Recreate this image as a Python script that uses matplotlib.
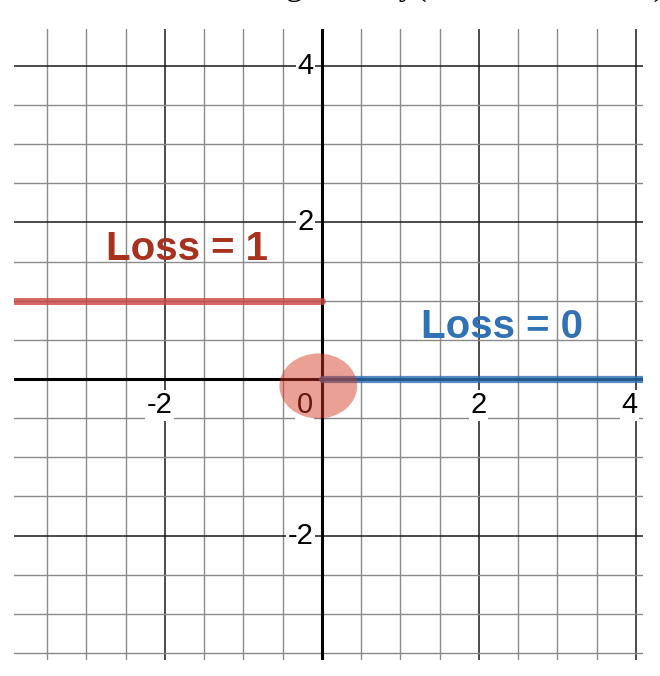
import numpy as np
import matplotlib
matplotlib.use("Agg")
import matplotlib.pyplot as plt
from matplotlib.patches import Ellipse

# --- data ---
x_range = [-3.92, 4.09]
y_range = [-3.59, 4.47]
minor_step = 0.5
major_step = 2.0

loss_one_x = [-3.92, 0.0]      # Loss = 1 for x < 0
loss_one_y = [1.0, 1.0]
loss_zero_x = [0.0, 4.09]      # Loss = 0 for x >= 0
loss_zero_y = [0.0, 0.0]

hole_xy = [-0.045, -0.09]      # highlighted point at the origin
hole_size = [0.99, 0.83]

xtick_vals = [-2, 0, 2, 4]
xtick_text = ["-2", "0", "2", "4"]
xtick_shift = [-5, -9, 0, -6]  # px, label placement tweaks
ytick_vals = [-2, 2, 4]
ytick_text = ["-2", "2", "4"]

label_one = ("Loss = 1", -1.72, 1.66)
label_zero = ("Loss = 0", 2.29, 0.66)

RED = "#c74440"; BLUE = "#2d70b3"
RED_TXT = "#a9321f"; BLUE_TXT = "#3172b7"

fig = plt.figure(figsize=(6.6, 6.76), dpi=100)
ax = fig.add_axes([14 / 660, 16 / 676, 629 / 660, 631 / 676])
ax.set_xlim(*x_range)
ax.set_ylim(*y_range)
for s in ax.spines.values():
    s.set_visible(False)
ax.set_xticks([]); ax.set_yticks([])

# grid: minor grey every 0.5, major black every 2
gx = np.arange(np.ceil(x_range[0] / minor_step), np.floor(x_range[1] / minor_step) + 1) * minor_step
gy = np.arange(np.ceil(y_range[0] / minor_step), np.floor(y_range[1] / minor_step) + 1) * minor_step
for v in gx:
    if v == 0:
        continue
    major = np.isclose(v % major_step, 0)
    ax.axvline(v, color="#1a1a1a" if major else "#8a8a8a", lw=1.1 if major else 1.0, zorder=1)
for v in gy:
    if v == 0:
        continue
    major = np.isclose(v % major_step, 0)
    ax.axhline(v, color="#1a1a1a" if major else "#8a8a8a", lw=1.1 if major else 1.0, zorder=1)
ax.axhline(0, color="black", lw=2.2, zorder=2)
ax.axvline(0, color="black", lw=2.2, zorder=2)

tick_font = dict(family="Liberation Sans", fontsize=21, color="black")
box = dict(boxstyle="square,pad=0.05", fc="white", ec="none")
for v, t, dx in zip(xtick_vals, xtick_text, xtick_shift):
    ax.annotate(t, xy=(v, 0), xytext=(dx * 0.72, -9), textcoords="offset points",
                ha="right" if v == 0 else "center", va="top", bbox=box, zorder=3, **tick_font)
for v, t in zip(ytick_vals, ytick_text):
    ax.annotate(t, xy=(0, v), xytext=(-6, 0), textcoords="offset points",
                ha="right", va="center", bbox=box, zorder=3, **tick_font)

# the two loss pieces
ax.plot(loss_one_x, loss_one_y, color=RED, lw=5, alpha=0.8, solid_capstyle="round", zorder=4)
ax.plot(loss_zero_x, loss_zero_y, color=BLUE, lw=5.2, alpha=0.8, solid_capstyle="round", zorder=4)
ax.add_patch(Ellipse(hole_xy, hole_size[0], hole_size[1], color="#d53520", alpha=0.47, lw=0, zorder=5))

lab_font = dict(family="Liberation Sans", fontsize=29, fontweight="bold", ha="center", va="center")
ax.text(label_one[1], label_one[2], label_one[0], color=RED_TXT, zorder=6, **lab_font)
ax.text(label_zero[1], label_zero[2], label_zero[0], color=BLUE_TXT, zorder=6, **lab_font)

# title, cropped off at the top of the screenshot (only descenders show)
fig.text(117 / 660, 1 + 5 / 676, "Loss vs. margin m = y(w \u00b7 x + b + noise)", family="Liberation Serif",
         fontsize=24, ha="left", va="baseline")

fig.savefig("out.png", dpi=100, facecolor="white")
